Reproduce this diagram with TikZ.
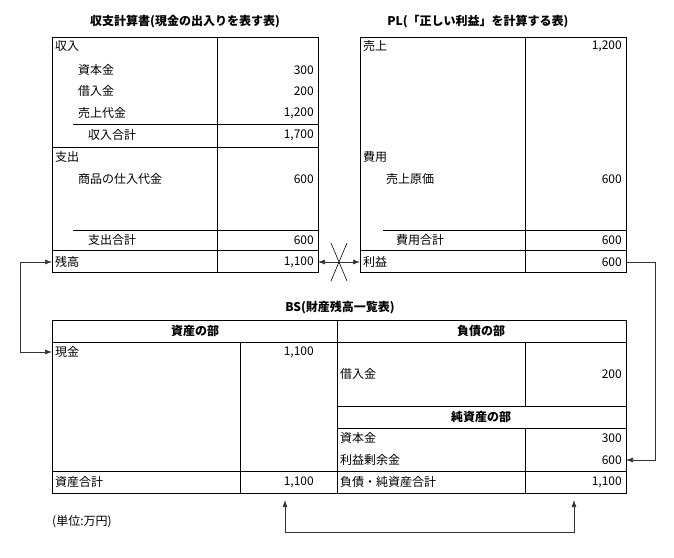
\documentclass[tikz,border=0pt]{standalone}
\usepackage{fontspec}
\setmainfont{Noto Sans CJK JP}
\usetikzlibrary{arrows.meta}
\tikzset{
  lbl/.style={anchor=west,inner sep=0pt,font=\fontsize{12}{13}\selectfont},
  num/.style={anchor=east,inner sep=0pt,font=\fontsize{12}{13}\selectfont},
  ttl/.style={inner sep=0pt,font=\fontsize{12}{13}\selectfont\bfseries},
  rule/.style={line width=0.9pt},
  link/.style={line width=0.7pt,draw=black!80,-{Latex[length=7pt,width=5pt]}}
}
\begin{document}
\begin{tikzpicture}[x=1pt,y=-1pt]
            \useasboundingbox (0,0) rectangle (674,557);
            %収支計算書
            \node[ttl] (tCF) at (185,22) {収支計算書(現金の出入りを表す表)};
            \draw[rule] (52,37) rectangle (318,272);
            \draw[rule] (217,37) -- (217,272);
            \draw[rule] (73,124) -- (318,124);
            \draw[rule] (52,147) -- (318,147);
            \draw[rule] (73,230) -- (318,230);
            \draw[rule] (52,250) -- (318,250);
            \node[lbl] (cfIn) at (55,46) {収入};
            \node[lbl] (cfCap) at (78,70) {資本金};   \node[num] (cfCapV) at (314,70) {300};
            \node[lbl] (cfLoan) at (78,91) {借入金};  \node[num] (cfLoanV) at (314,91) {200};
            \node[lbl] (cfSale) at (78,113) {売上代金}; \node[num] (cfSaleV) at (314,113) {1,200};
            \node[lbl] (cfInT) at (88,135) {収入合計}; \node[num] (cfInTV) at (314,135) {1,700};
            \node[lbl] (cfOut) at (55,157) {支出};
            \node[lbl] (cfBuy) at (78,179) {商品の仕入代金}; \node[num] (cfBuyV) at (314,179) {600};
            \node[lbl] (cfOutT) at (88,240) {支出合計}; \node[num] (cfOutTV) at (314,240) {600};
            \node[lbl] (cfBal) at (55,262) {残高}; \node[num] (cfBalV) at (314,262) {1,100};
            %PL
            \node[ttl] (tPL) at (478,22) {PL(「正しい利益」を計算する表)};
            \draw[rule] (360,37) rectangle (626,272);
            \draw[rule] (525,37) -- (525,272);
            \draw[rule] (383,230) -- (626,230);
            \draw[rule] (360,250) -- (626,250);
            \node[lbl] (plSale) at (363,46) {売上}; \node[num] (plSaleV) at (622,46) {1,200};
            \node[lbl] (plCost) at (363,157) {費用};
            \node[lbl] (plCogs) at (386,179) {売上原価}; \node[num] (plCogsV) at (622,179) {600};
            \node[lbl] (plCostT) at (396,240) {費用合計}; \node[num] (plCostTV) at (622,240) {600};
            \node[lbl] (plProf) at (363,262) {利益}; \node[num] (plProfV) at (622,262) {600};
            %BS
            \node[ttl] (tBS) at (340,308) {BS(財産残高一覧表)};
            \draw[rule] (52,320) rectangle (626,493);
            \draw[rule] (52,342) -- (626,342);
            \draw[rule] (337,320) -- (337,493);
            \draw[rule] (240,342) -- (240,493);
            \draw[rule] (525,342) -- (525,406);
            \draw[rule] (525,428) -- (525,493);
            \draw[rule] (337,406) -- (626,406);
            \draw[rule] (337,428) -- (626,428);
            \draw[rule] (52,471) -- (626,471);
            \node[ttl] (bsA) at (195,331) {資産の部};
            \node[ttl] (bsL) at (481,331) {負債の部};
            \node[ttl] (bsN) at (481,417) {純資産の部};
            \node[lbl] (bsCash) at (55,352) {現金}; \node[num] (bsCashV) at (314,352) {1,100};
            \node[lbl] (bsLoan) at (340,374) {借入金}; \node[num] (bsLoanV) at (622,374) {200};
            \node[lbl] (bsCap) at (340,438) {資本金}; \node[num] (bsCapV) at (622,438) {300};
            \node[lbl] (bsRE) at (340,460) {利益剰余金}; \node[num] (bsREV) at (622,460) {600};
            \node[lbl] (bsAT) at (55,482) {資産合計}; \node[num] (bsATV) at (314,482) {1,100};
            \node[lbl] (bsLT) at (340,482) {負債・純資産合計}; \node[num] (bsLTV) at (622,482) {1,100};
            \node[lbl] (unit) at (52,522) {(単位:万円)};
            %つながり
            \coordinate (cfEnd) at (318,262);
            \coordinate (plEnd) at (360,262);
            \coordinate (cashEnd) at (52,352);
            \coordinate (balEnd) at (52,262);
            \coordinate (profEnd) at (626,262);
            \coordinate (reEnd) at (626,460);
            \coordinate (aTot) at (285,500);
            \coordinate (lTot) at (574,500);
            \draw[link,{Latex[length=7pt,width=5pt]}-{Latex[length=7pt,width=5pt]}] (cfEnd) -- (plEnd);
            \draw[line width=0.6pt] (331,243) -- (347,281) (347,243) -- (331,281);
            \draw[link,{Latex[length=7pt,width=5pt]}-{Latex[length=7pt,width=5pt]}] (cashEnd) -- (20,352) |- (balEnd);
            \draw[link] (profEnd) -- (655,262) |- (reEnd);
            \draw[link,{Latex[length=7pt,width=5pt]}-{Latex[length=7pt,width=5pt]}] (aTot) -- (285,532) -| (lTot);
\end{tikzpicture}
\end{document}
